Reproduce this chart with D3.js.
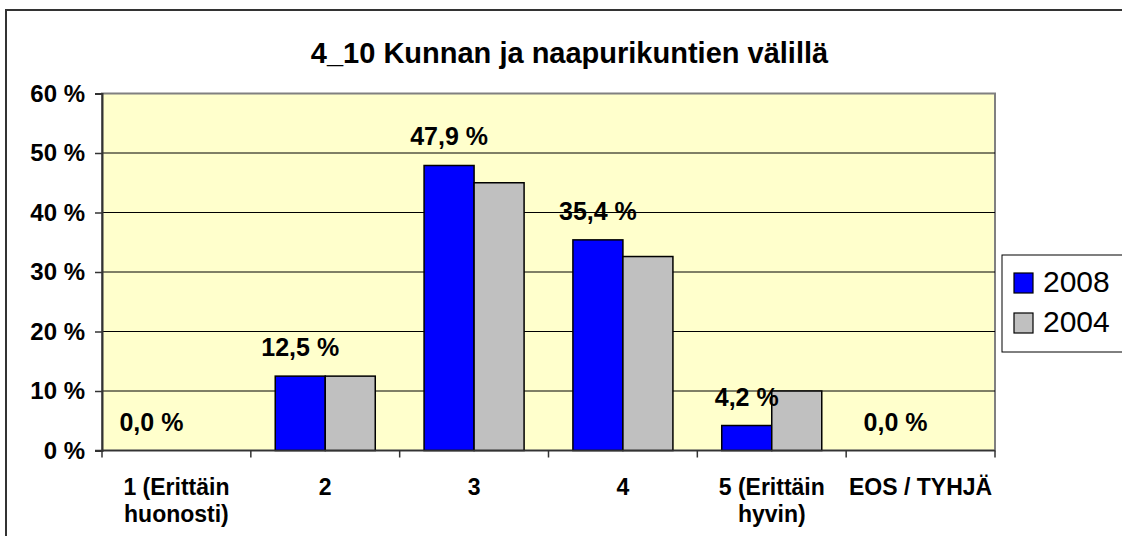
<!DOCTYPE html>
<html>
<head>
<meta charset="utf-8">
<script src="https://cdn.jsdelivr.net/npm/d3@7"></script>
<style>
  body { margin: 0; background: #fff; }
  svg { display: block; font-family: Arial, "Liberation Sans", sans-serif; }
</style>
</head>
<body>
<svg id="chart" width="1122" height="536"></svg>
<script>
// データ
var categories = ["1 (Erittäin|huonosti)", "2", "3", "4", "5 (Erittäin|hyvin)", "EOS / TYHJÄ"];
var seriesNames = ["2008", "2004"];
var values2008 = [0.0, 12.5, 47.9, 35.4, 4.2, 0.0];
var values2004 = [0.0, 12.5, 45.0, 32.6, 10.0, 0.0];
var yTicks = [0, 10, 20, 30, 40, 50, 60];
var colors = ["#0000ff", "#c0c0c0"];
var titleText = "4_10 Kunnan ja naapurikuntien välillä";

var svg = d3.select("#chart");
var plot = { left: 102, right: 995, top: 93.5, bottom: 450.5 };

// 外枠
svg.append("rect")
  .attr("x", 6).attr("y", 10)
  .attr("width", 1300).attr("height", 700)
  .attr("fill", "#fff")
  .attr("stroke", "#333").attr("stroke-width", 2);

// タイトル
svg.append("text")
  .attr("x", 569.5).attr("y", 63)
  .attr("text-anchor", "middle")
  .style("font-size", "29px").style("font-weight", "bold")
  .text(titleText);

var x0 = d3.scaleBand().domain(categories).range([plot.left, plot.right]);
var x1 = d3.scaleBand().domain(seriesNames)
  .range([x0.bandwidth() * 0.164, x0.bandwidth() * 0.836]);
var y = d3.scaleLinear().domain([0, 60]).range([plot.bottom, plot.top]);

// プロットエリア
svg.append("rect")
  .attr("x", plot.left).attr("y", plot.top)
  .attr("width", plot.right - plot.left).attr("height", plot.bottom - plot.top)
  .attr("fill", "#ffffcc")
  .attr("stroke", "#808080").attr("stroke-width", 2);

// グリッド線
svg.append("g").selectAll("line")
  .data(yTicks.filter((d) => d > 0 && d < 60))
  .enter().append("line")
  .attr("x1", plot.left).attr("x2", plot.right)
  .attr("y1", (d) => y(d)).attr("y2", (d) => y(d))
  .attr("stroke", "#000").attr("stroke-width", 1);

// 棒
var rows = categories.map((c, i) => ({ cat: c, vals: [values2008[i], values2004[i]] }));
var groups = svg.append("g").selectAll("g")
  .data(rows).enter().append("g")
  .attr("transform", (d) => `translate(${x0(d.cat)},0)`);
groups.selectAll("rect")
  .data((d) => d.vals.map((v, j) => ({ name: seriesNames[j], value: v, j: j })))
  .enter().append("rect")
  .filter((d) => d.value > 0)
  .attr("x", (d) => x1(d.name))
  .attr("y", (d) => y(d.value))
  .attr("width", x1.bandwidth())
  .attr("height", (d) => y(0) - y(d.value))
  .attr("fill", (d) => colors[d.j])
  .attr("stroke", "#000").attr("stroke-width", 1.5);

// Y軸
var yAxis = d3.axisLeft(y).tickValues(yTicks).tickSize(7).tickPadding(10)
  .tickFormat((d) => d + " %");
var yg = svg.append("g").attr("transform", `translate(${plot.left},0)`).call(yAxis);
yg.select(".domain").attr("stroke", "#333").attr("stroke-width", 2);
yg.selectAll(".tick line").attr("stroke", "#333").attr("stroke-width", 1.5);
yg.selectAll("text")
  .style("font-size", "24px").style("font-weight", "bold")
  .attr("fill", "#000");

// X軸
var bounds = categories.map((c) => x0(c)).concat([plot.right]);
svg.append("line")
  .attr("x1", plot.left - 7).attr("x2", plot.right)
  .attr("y1", y(0)).attr("y2", y(0))
  .attr("stroke", "#333").attr("stroke-width", 1.5);
svg.append("g").selectAll("line")
  .data(bounds).enter().append("line")
  .attr("x1", (d) => d).attr("x2", (d) => d)
  .attr("y1", y(0)).attr("y2", y(0) + 7)
  .attr("stroke", "#333").attr("stroke-width", 1.5);

var catLabels = svg.append("g").selectAll("text")
  .data(categories).enter().append("text")
  .attr("x", (d) => x0(d) + x0.bandwidth() / 2)
  .attr("y", 495)
  .attr("text-anchor", "middle")
  .style("font-size", "23px").style("font-weight", "bold");
catLabels.each(function (d) {
  var parts = d.split("|");
  var t = d3.select(this);
  parts.forEach((p, i) => {
    t.append("tspan")
      .attr("x", x0(d) + x0.bandwidth() / 2)
      .attr("dy", i == 0 ? 0 : 27)
      .text(p);
  });
});

// データラベル (2008)
svg.append("g").selectAll("text")
  .data(rows).enter().append("text")
  .attr("x", (d) => x0(d.cat) + x1("2008") + x1.bandwidth() / 2)
  .attr("y", (d) => y(d.vals[0]) - 20)
  .attr("text-anchor", "middle")
  .style("font-size", "25px").style("font-weight", "bold")
  .text((d) => d3.format(".1f")(d.vals[0]).replace(".", ",") + " %");

// 凡例
var legend = svg.append("g");
legend.append("rect")
  .attr("x", 1002).attr("y", 255).attr("width", 200).attr("height", 97)
  .attr("fill", "#fff").attr("stroke", "#000").attr("stroke-width", 1);
var items = legend.selectAll("g").data(seriesNames).enter().append("g")
  .attr("transform", (d, i) => `translate(1014,${273 + i * 40})`);
items.append("rect")
  .attr("width", 19).attr("height", 20)
  .attr("fill", (d, i) => colors[i])
  .attr("stroke", "#000").attr("stroke-width", 1.2);
items.append("text")
  .attr("x", 29).attr("y", 19)
  .style("font-size", "30px")
  .text((d) => d);
</script>
</body>
</html>
